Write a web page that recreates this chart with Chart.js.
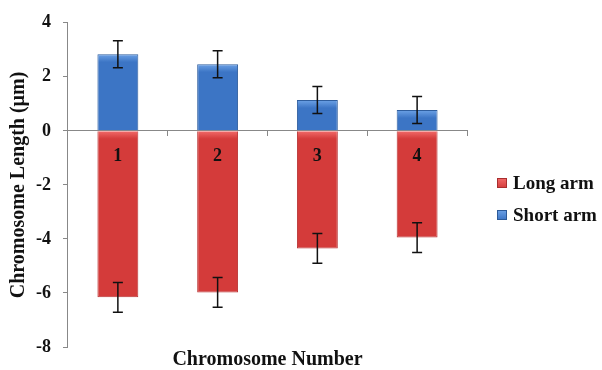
<!DOCTYPE html>
<html>
<head>
<meta charset="utf-8">
<script src="https://cdn.jsdelivr.net/npm/chart.js@4.4.1/dist/chart.umd.min.js"></script>
<style>
  html, body { margin: 0; padding: 0; background: #fff; }
</style>
</head>
<body>
<canvas id="chromChart" width="602" height="370"></canvas>
<script>
const chromosomes = ["1", "2", "3", "4"];
const shortArm = [2.84, 2.47, 1.14, 0.77];
const shortArmErr = [0.5, 0.5, 0.5, 0.5];
const longArm = [-6.16, -5.98, -4.35, -3.95];
const longArmErr = [0.55, 0.55, 0.55, 0.55];
const yMin = -8, yMax = 4, yStep = 2;

const serif = "'Liberation Serif', 'DejaVu Serif', serif";
const redBase = "#d43b3a", redLight = "#f26b6a";
const blueBase = "#3c75c5", blueLight = "#6da2e6";

// lighter bevel at the top edge of every bar
function bevel(light, base) {
  return function(c) {
    const chart = c.chart;
    if (!chart.scales.y || c.dataIndex === undefined) return base;
    const v = c.dataset.data[c.dataIndex];
    const top = chart.scales.y.getPixelForValue(Math.max(v, 0));
    if (!isFinite(top)) return base;
    const g = chart.ctx.createLinearGradient(0, top, 0, top + 8);
    g.addColorStop(0, light);
    g.addColorStop(1, base);
    return g;
  };
}

// error bars on top of each bar
const errorBars = {
  id: "errorBars",
  afterDatasetsDraw(chart) {
    const ctx = chart.ctx;
    const yScale = chart.scales.y;
    chart.data.datasets.forEach((ds, di) => {
      const meta = chart.getDatasetMeta(di);
      meta.data.forEach((bar, i) => {
        const v = ds.data[i], e = ds.errors[i];
        const top = yScale.getPixelForValue(v + e);
        const bot = yScale.getPixelForValue(v - e);
        ctx.save();
        ctx.strokeStyle = "#111";
        ctx.lineWidth = 1.5;
        ctx.beginPath();
        ctx.moveTo(bar.x, top); ctx.lineTo(bar.x, bot);
        ctx.moveTo(bar.x - 5, top); ctx.lineTo(bar.x + 5, top);
        ctx.moveTo(bar.x - 5, bot); ctx.lineTo(bar.x + 5, bot);
        ctx.stroke();
        ctx.restore();
      });
    });
  }
};

// category numbers inside the bars, x axis title, legend on the right
const chartText = {
  id: "chartText",
  afterDatasetsDraw(chart) {
    const ctx = chart.ctx;
    const xScale = chart.scales.x, yScale = chart.scales.y;
    const area = chart.chartArea;
    const y0 = yScale.getPixelForValue(0);
    ctx.save();
    ctx.fillStyle = "#111";
    ctx.textAlign = "center";
    ctx.textBaseline = "middle";
    ctx.font = "bold 18px " + serif;
    chromosomes.forEach((c, i) => {
      ctx.fillText(c, xScale.getPixelForValue(i), y0 + 25);
    });
    ctx.font = "bold 20px " + serif;
    ctx.fillText("Chromosome Number", (area.left + area.right) / 2, 360);

    // legend
    const legendColors = [[redLight, redBase, "#a82e2e"], [blueLight, blueBase, "#2d5a98"]];
    ctx.textAlign = "left";
    ctx.font = "bold 19px " + serif;
    chart.data.datasets.forEach((ds, di) => {
      const cy = 183 + di * 32;
      const g = ctx.createLinearGradient(0, cy - 5, 0, cy + 5);
      g.addColorStop(0, legendColors[di][0]);
      g.addColorStop(1, legendColors[di][1]);
      ctx.fillStyle = g;
      ctx.fillRect(497, cy - 5, 10, 10);
      ctx.strokeStyle = legendColors[di][2];
      ctx.lineWidth = 1;
      ctx.strokeRect(497.5, cy - 4.5, 9, 9);
      ctx.fillStyle = "#111";
      ctx.fillText(ds.label, 513, cy + 1);
    });
    ctx.restore();
  }
};

const ctx = document.getElementById("chromChart").getContext("2d");
new Chart(ctx, {
  type: "bar",
  data: {
    labels: chromosomes,
    datasets: [{
      label: "Long arm",
      data: longArm,
      errors: longArmErr,
      backgroundColor: bevel(redLight, redBase),
      borderColor: "#b83333",
      borderWidth: 1
    }, {
      label: "Short arm",
      data: shortArm,
      errors: shortArmErr,
      backgroundColor: bevel(blueLight, blueBase),
      borderColor: "#2f5e9e",
      borderWidth: 1
    }]
  },
  options: {
    responsive: false,
    animation: false,
    layout: { padding: { left: 7, top: 12, bottom: 23, right: 135 } },
    datasets: { bar: { categoryPercentage: 1, barPercentage: 0.41 } },
    plugins: {
      tooltip: { enabled: false },
      legend: { display: false }
    },
    scales: {
      x: {
        stacked: true,
        position: { y: 0 },
        grid: { display: true, drawOnChartArea: false, drawTicks: true, tickLength: 5, color: "#888", offset: true },
        border: { color: "#888" },
        ticks: { display: false }
      },
      y: {
        stacked: true,
        min: yMin,
        max: yMax,
        ticks: {
          stepSize: yStep,
          color: "#111",
          padding: 12,
          font: { family: serif, size: 18, weight: "bold" }
        },
        grid: { drawOnChartArea: false, tickLength: 5, color: "#888" },
        border: { color: "#888" },
        title: {
          display: true,
          text: "Chromosome Length (µm)",
          color: "#111",
          font: { family: serif, size: 20, weight: "bold" },
          padding: { top: 0, bottom: -7 }
        }
      }
    }
  },
  plugins: [errorBars, chartText]
});
</script>
</body>
</html>
